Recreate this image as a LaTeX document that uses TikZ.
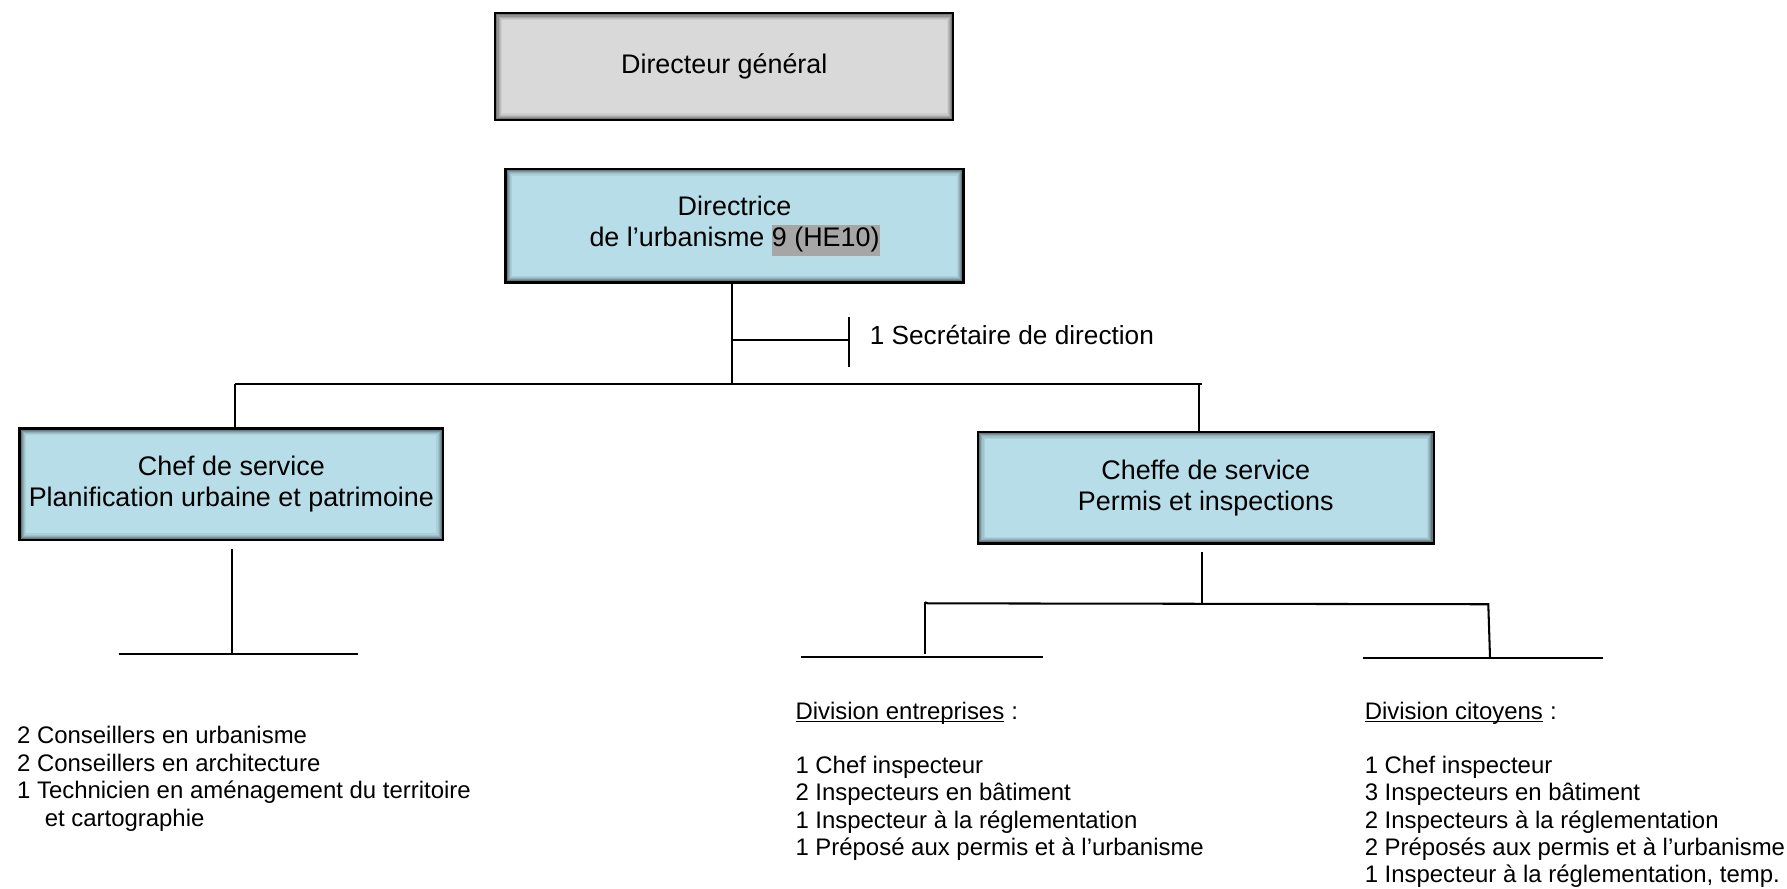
\documentclass[tikz,border=0pt]{standalone}
\usepackage{fontspec}
\setmainfont{Liberation Sans}
\usetikzlibrary{calc}
\definecolor{boxblue}{HTML}{B7DEE8}
\definecolor{boxgray}{HTML}{D9D9D9}
\definecolor{hlgray}{HTML}{A6A6A6}
\newcommand\myul[1]{\setbox0\hbox{#1}\rlap{\rule[-1.4pt]{\wd0}{0.6pt}}\box0}
\newcommand\ishadow[1]{%
  \foreach \i/\o in {1.5/0.6,2.5/0.45,3.5/0.32,4.5/0.21,5.5/0.12,6.5/0.06}{%
    \draw[black,opacity=\o,line width=0.5pt] ($(#1.north west)+(\i,\i)$) rectangle ($(#1.south east)+(-\i,-\i)$);}}
\begin{document}
\begin{tikzpicture}[x=0.5pt,y=-0.5pt,
  orgbox/.style={draw=black, line width=1pt, inner sep=0pt, align=center,
    font=\fontsize{11.8}{13.6}\selectfont},
  conn/.style={line width=0.9pt, black},
  lst/.style={anchor=base west, inner sep=0pt, font=\fontsize{10.5}{12}\selectfont},
  sec/.style={anchor=base west, inner sep=0pt, font=\fontsize{11.5}{13.5}\selectfont}]
\useasboundingbox (0,0) rectangle (1568,780);
\fill[white] (0,0) rectangle (1568,780);

% boxes
\node[orgbox, fill=boxgray, minimum width=201pt, minimum height=47pt] (dg) at (635.5,58.5) {\raisebox{1.5pt}{Directeur général}};
\ishadow{dg}
\node[orgbox, fill=boxblue, minimum width=201pt, minimum height=50pt] (dir) at (644.5,198)
  {Directrice\\de l’urbanisme {\setlength{\fboxsep}{0pt}\colorbox{hlgray}{\strut 9 (HE10)}}};
\ishadow{dir}
\node[orgbox, fill=boxblue, minimum width=186pt, minimum height=49pt] (plan) at (203,425)
  {Chef de service\\Planification urbaine et patrimoine};
\ishadow{plan}
\node[orgbox, fill=boxblue, minimum width=200pt, minimum height=49pt] (perm) at (1058,428)
  {Cheffe de service\\Permis et inspections};
\ishadow{perm}

% junction coordinates
\coordinate (j0) at (642,337);
\coordinate (jl) at (206,337);
\coordinate (jr) at (1055,337);
\coordinate (secend) at (745.2,298.3);
\coordinate (sectop) at (745.2,278.4);
\coordinate (secbot) at (745.2,322.3);

% connectors from Directrice
\draw[conn] (j0 |- dir.south) -- (j0);
\draw[conn] (j0 |- secend) -- (secend);
\draw[conn] (sectop) -- (secbot);
\draw[conn] (jl) -- (jr);
\draw[conn] (jl) -- (jl |- plan.north);
\draw[conn] (1052,337) -- (1052,379);
\node[sec] (sectxt) at (762.8,302.1) {1 Secrétaire de direction};

% under Planification
\coordinate (pl0) at (203.3,482);
\coordinate (pl1) at (203.3,574.1);
\coordinate (plL) at (104.4,574.1);
\coordinate (plR) at (314.4,574.1);
\draw[conn] (pl0) -- (pl1);
\draw[conn] (plL) -- (plR);

% under Permis
\coordinate (pm0) at (1054.4,484);
\coordinate (pm1) at (1054.4,529.6);
\coordinate (pmL) at (811.6,528.5);
\coordinate (pmR) at (1305.9,530.2);
\coordinate (entT) at (811.6,573.8);
\coordinate (citT) at (1307.4,576.8);
\draw[conn] (pm0) -- (pm1);
\draw[conn] (pmL) -- (814,529.4) -- (pmR) -- (citT);
\draw[conn] (pmL) -- (entT);
\draw[conn] (702.5,576.2) -- (915.4,576.2);
\draw[conn] (1195.6,577.4) -- (1406.2,577.4);

% left list
\node[lst] (l1) at (14.6,652.8) {2 Conseillers en urbanisme};
\node[lst] (l2) at (14.6,676.9) {2 Conseillers en architecture};
\node[lst] (l3) at (14.6,701.0) {1 Technicien en aménagement du territoire};
\node[lst] (l4) at (38.9,725.0) {et cartographie};

% entreprises
\node[lst] (e0) at (697.6,630.9) {\myul{Division entreprises}\hspace{0.3em}:};
\node[lst] (e1) at (697.6,678.5) {1 Chef inspecteur};
\node[lst] (e2) at (697.6,702.6) {2 Inspecteurs en bâtiment};
\node[lst] (e3) at (697.6,726.7) {1 Inspecteur à la réglementation};
\node[lst] (e4) at (697.6,750.8) {1 Préposé aux permis et à l’urbanisme};

% citoyens
\node[lst] (c0) at (1197.1,630.9) {\myul{Division citoyens}\hspace{0.3em}:};
\node[lst] (c1) at (1197.1,678.5) {1 Chef inspecteur};
\node[lst] (c2) at (1197.1,702.6) {3 Inspecteurs en bâtiment};
\node[lst] (c3) at (1197.1,726.7) {2 Inspecteurs à la réglementation};
\node[lst] (c4) at (1197.1,750.8) {2 Préposés aux permis et à l’urbanisme};
\node[lst] (c5) at (1197.1,774.6) {1 Inspecteur à la réglementation, temp.};
\end{tikzpicture}
\end{document}
